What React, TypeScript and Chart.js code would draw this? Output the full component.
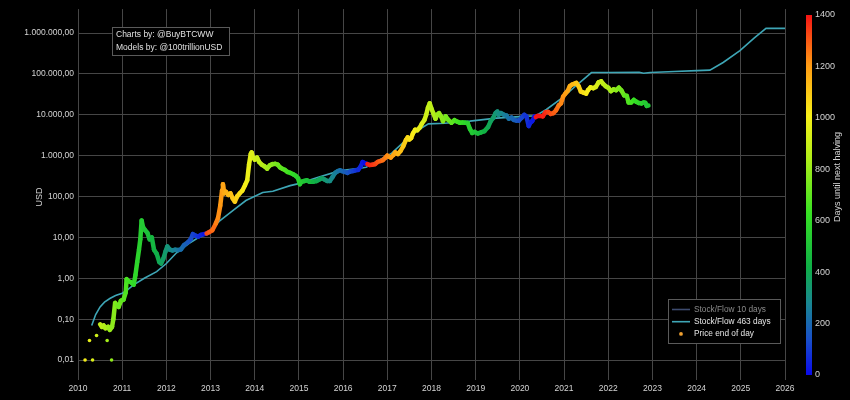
import { useEffect, useRef } from 'react';
import { Chart, registerables } from 'chart.js';

Chart.register(...registerables);

// ---------- data ----------
const halvingYears = [2012.91, 2016.52, 2020.36, 2024.3];

const earlyYears = [2010.16, 2010.26, 2010.33, 2010.42, 2010.66, 2010.76];
const earlyUsd = [0.01, 0.03, 0.01, 0.04, 0.03, 0.01];

const priceYears = [
  2010.5, 2010.54, 2010.58, 2010.62, 2010.68, 2010.72, 2010.77, 2010.8, 2010.84, 2010.88,
  2010.92, 2010.97, 2011.03, 2011.08, 2011.1, 2011.14, 2011.2, 2011.26, 2011.3, 2011.34,
  2011.38, 2011.41, 2011.44, 2011.47, 2011.52, 2011.57, 2011.62, 2011.67, 2011.72, 2011.78,
  2011.84, 2011.88, 2011.93, 2011.98, 2012.02, 2012.08, 2012.14, 2012.2, 2012.27, 2012.33,
  2012.4, 2012.48, 2012.55, 2012.6, 2012.66, 2012.72, 2012.78, 2012.85, 2012.91, 2012.97,
  2013.04, 2013.12, 2013.17, 2013.22, 2013.26, 2013.28, 2013.31, 2013.35, 2013.4, 2013.45,
  2013.5, 2013.55, 2013.6, 2013.66, 2013.72, 2013.78, 2013.83, 2013.87, 2013.91, 2013.93,
  2013.96, 2014.0, 2014.05, 2014.1, 2014.16, 2014.22, 2014.28, 2014.34, 2014.4, 2014.46,
  2014.52, 2014.57, 2014.62, 2014.68, 2014.74, 2014.8, 2014.87, 2014.93, 2014.98, 2015.02,
  2015.06, 2015.12, 2015.18, 2015.24, 2015.32, 2015.4, 2015.46, 2015.52, 2015.58, 2015.64,
  2015.7, 2015.76, 2015.82, 2015.88, 2015.93, 2015.98, 2016.04, 2016.1, 2016.16, 2016.22,
  2016.28, 2016.34, 2016.4, 2016.44, 2016.47, 2016.5, 2016.55, 2016.6, 2016.66, 2016.72,
  2016.78, 2016.84, 2016.9, 2016.96, 2017.0, 2017.03, 2017.08, 2017.14, 2017.18, 2017.24,
  2017.3, 2017.36, 2017.42, 2017.46, 2017.5, 2017.54, 2017.58, 2017.63, 2017.68, 2017.73,
  2017.78, 2017.84, 2017.88, 2017.92, 2017.96, 2018.0, 2018.04, 2018.09, 2018.13, 2018.17,
  2018.22, 2018.26, 2018.32, 2018.38, 2018.45, 2018.52, 2018.58, 2018.64, 2018.7, 2018.76,
  2018.82, 2018.87, 2018.92, 2018.98, 2019.05, 2019.12, 2019.2, 2019.28, 2019.34, 2019.4,
  2019.45, 2019.49, 2019.52, 2019.57, 2019.64, 2019.7, 2019.75, 2019.81, 2019.86, 2019.92,
  2019.98, 2020.04, 2020.1, 2020.15, 2020.2, 2020.24, 2020.28, 2020.33, 2020.36, 2020.4,
  2020.46, 2020.52, 2020.58, 2020.64, 2020.7, 2020.76, 2020.82, 2020.88, 2020.93, 2020.98,
  2021.03, 2021.08, 2021.13, 2021.18, 2021.24, 2021.28, 2021.33, 2021.38, 2021.44, 2021.5,
  2021.54, 2021.6, 2021.66, 2021.72, 2021.78, 2021.84, 2021.88, 2021.94, 2022.0, 2022.06,
  2022.12, 2022.18, 2022.24, 2022.3, 2022.36, 2022.42, 2022.46, 2022.52, 2022.58, 2022.63,
  2022.69, 2022.75, 2022.8, 2022.84, 2022.87, 2022.91,
];
const priceUsd = [
  0.075, 0.065, 0.07, 0.06, 0.065, 0.055, 0.065, 0.1, 0.25, 0.22,
  0.2, 0.28, 0.3, 0.45, 0.95, 0.85, 0.8, 0.7, 1.2, 2.5,
  5, 9, 26, 18, 15, 13, 9, 10, 5, 4,
  2.5, 2.3, 3, 4.5, 6, 5, 4.8, 5, 4.9, 5.1,
  6.5, 7.5, 9, 12, 11, 10.5, 11.5, 12, 12.5, 13.5,
  15, 22, 30, 60, 140, 200, 120, 130, 110, 120,
  90, 75, 100, 120, 140, 190, 250, 600, 1100, 1200,
  900, 800, 900, 700, 600, 550, 480, 580, 620, 630,
  600, 520, 480, 450, 400, 380, 350, 320, 280, 200,
  230, 240, 250, 230, 230, 240, 260, 280, 260, 240,
  240, 300, 380, 420, 440, 420, 400, 380, 410, 420,
  440, 450, 550, 700, 670, 650, 620, 590, 600, 620,
  700, 740, 780, 900, 1000, 950, 900, 1050, 1200, 1100,
  1300, 1700, 2400, 2800, 2500, 2700, 3500, 4300, 4200, 4800,
  6000, 7500, 10000, 15000, 19000, 14000, 11000, 8000, 10000, 11000,
  9000, 7000, 9200, 7500, 6400, 7400, 6800, 6400, 6500, 6400,
  6300, 4500, 3600, 3800, 3500, 3700, 4000, 5000, 7000, 8500,
  11000, 12000, 10000, 11000, 10000, 9500, 8000, 8500, 7500, 7200,
  7200, 8500, 10000, 9000, 5300, 6500, 7000, 9000, 8800, 9500,
  9300, 9200, 11500, 11700, 10500, 11000, 13000, 17000, 19000, 28000,
  33000, 38000, 50000, 55000, 58000, 60000, 50000, 37000, 35000, 33000,
  40000, 47000, 45000, 48000, 62000, 66000, 58000, 50000, 46000, 38000,
  42000, 40000, 46000, 39000, 30000, 29000, 20000, 20000, 23000, 21000,
  19500, 19000, 20000, 19500, 16500, 16800,
];

const sfYears = [
  2010.31, 2010.4, 2010.5, 2010.6, 2010.72, 2010.85, 2011.0, 2011.1, 2011.25, 2011.5,
  2011.78, 2012.0, 2012.23, 2012.5, 2012.7, 2012.91, 2013.2, 2013.51, 2013.8, 2014.18,
  2014.41, 2014.8, 2015.02, 2015.4, 2015.93, 2016.3, 2016.52, 2016.8, 2017.1, 2017.4,
  2017.7, 2017.93, 2018.3, 2018.87, 2019.47, 2020.0, 2020.36, 2020.6, 2020.98, 2021.3,
  2021.62, 2022.0, 2022.7, 2022.8, 2022.95, 2023.5, 2024.0, 2024.3, 2024.6, 2024.98,
  2025.3, 2025.57, 2026.0,
];
const sfUsd = [
  0.07, 0.13, 0.2, 0.26, 0.32, 0.38, 0.43, 0.5, 0.68, 1.0,
  1.45, 2.3, 4.2, 7.0, 9.5, 12, 25, 46, 80, 125,
  135, 185, 210, 290, 430, 480, 520, 760, 1150, 2300,
  4200, 6000, 6200, 7000, 8300, 9000, 9500, 13500, 27000, 55000,
  108000, 108000, 110000, 104000, 108000, 115000, 120000, 124000, 190000, 370000,
  750000, 1300000, 1300000,
];

const yTickValues = [0.01, 0.1, 1, 10, 100, 1000, 10000, 100000, 1000000];
const colorbarTicks = [0, 200, 400, 600, 800, 1000, 1200, 1400];
const colorbarMax = 1400;

// ---------- helpers ----------
const FONT = '"Liberation Sans", Arial, sans-serif';
const TEXT = '#d4d4d4';

const colorStops: [number, number[]][] = [
  [0, [10, 10, 235]],
  [0.1, [25, 80, 200]],
  [0.2, [25, 135, 145]],
  [0.3, [15, 175, 70]],
  [0.45, [55, 225, 35]],
  [0.6, [175, 238, 25]],
  [0.72, [248, 240, 25]],
  [0.86, [255, 155, 20]],
  [1, [245, 20, 20]],
];

function colorAtT(t: number): string {
  t = Math.max(0, Math.min(1, t));
  for (let i = 1; i < colorStops.length; i++) {
    const [t1, c1] = colorStops[i];
    const [t0, c0] = colorStops[i - 1];
    if (t <= t1) {
      const f = (t - t0) / (t1 - t0);
      const c = c0.map((v, k) => Math.round(v + (c1[k] - v) * f));
      return `rgb(${c[0]},${c[1]},${c[2]})`;
    }
  }
  const c = colorStops[colorStops.length - 1][1];
  return `rgb(${c[0]},${c[1]},${c[2]})`;
}

function daysUntilHalving(year: number): number {
  const next = halvingYears.find((h) => h > year);
  if (next === undefined) return 0;
  return (next - year) * 365.25;
}

function colorForYear(year: number): string {
  return colorAtT(daysUntilHalving(year) / colorbarMax);
}

function fmtUsd(v: number): string {
  const s = v.toFixed(2);
  const [i, d] = s.split('.');
  return i.replace(/\B(?=(\d{3})+(?!\d))/g, '.') + ',' + d;
}

const overlayPlugin = {
  id: 'overlays',
  afterDraw(chart: any) {
    const ctx = chart.ctx as CanvasRenderingContext2D;
    ctx.save();

    // Annotation box
    ctx.fillStyle = '#000';
    ctx.fillRect(112.5, 27.5, 117, 28);
    ctx.strokeStyle = '#5a5a5a';
    ctx.lineWidth = 1;
    ctx.strokeRect(112.5, 27.5, 117, 28);
    ctx.fillStyle = '#e0e0e0';
    ctx.font = `8.5px ${FONT}`;
    ctx.textAlign = 'left';
    ctx.textBaseline = 'middle';
    ctx.fillText('Charts by: @BuyBTCWW', 116, 35);
    ctx.fillText('Models by: @100trillionUSD', 116, 48);

    // Legend box
    const lx = 668.5, ly = 299.5, lw = 112, lh = 44;
    ctx.fillStyle = '#000';
    ctx.fillRect(lx, ly, lw, lh);
    ctx.strokeStyle = '#5a5a5a';
    ctx.strokeRect(lx, ly, lw, lh);
    const items = chart.data.datasets.filter((d: any) => !d.legendSkip);
    items.forEach((d: any, i: number) => {
      const y = 309.5 + i * 12.2;
      if (d.legendDot) {
        ctx.fillStyle = d.borderColor;
        ctx.beginPath();
        ctx.arc(681, y, 1.9, 0, Math.PI * 2);
        ctx.fill();
      } else {
        ctx.strokeStyle = d.borderColor;
        ctx.lineWidth = 1.6;
        ctx.beginPath();
        ctx.moveTo(672, y);
        ctx.lineTo(690, y);
        ctx.stroke();
      }
      ctx.fillStyle = d.hidden ? '#8a8a8a' : '#e6e6e6';
      ctx.font = `8.3px ${FONT}`;
      ctx.textAlign = 'left';
      ctx.textBaseline = 'middle';
      ctx.fillText(d.label, 694, y);
    });

    // Colorbar
    const cbTop = 15, cbBottom = 375, cbX = 806, cbW = 6;
    const grad = ctx.createLinearGradient(0, cbBottom, 0, cbTop);
    colorStops.forEach(([t]) => grad.addColorStop(t, colorAtT(t)));
    ctx.fillStyle = grad;
    ctx.fillRect(cbX, cbTop, cbW, cbBottom - cbTop);
    ctx.fillStyle = TEXT;
    ctx.font = `9px ${FONT}`;
    ctx.textAlign = 'left';
    ctx.textBaseline = 'middle';
    colorbarTicks.forEach((v) => {
      const y = cbBottom - (v / colorbarMax) * (cbBottom - cbTop);
      ctx.fillText(String(v), 815, y);
    });
    ctx.save();
    ctx.translate(838, 177);
    ctx.rotate(-Math.PI / 2);
    ctx.textAlign = 'center';
    ctx.font = `9px ${FONT}`;
    ctx.fillText('Days until next halving', 0, 0);
    ctx.restore();

    // Y axis title
    ctx.save();
    ctx.translate(40, 197);
    ctx.rotate(-Math.PI / 2);
    ctx.textAlign = 'center';
    ctx.textBaseline = 'middle';
    ctx.fillStyle = TEXT;
    ctx.font = `9px ${FONT}`;
    ctx.fillText('USD', 0, 0);
    ctx.restore();

    ctx.restore();
  },
};

export default function App() {
  const ref = useRef<HTMLCanvasElement>(null);

  useEffect(() => {
    document.body.style.margin = '0';
    document.body.style.background = '#000';
    Chart.defaults.font.family = FONT;

    const chart = new Chart(ref.current as HTMLCanvasElement, {
      type: 'line',
      data: {
        datasets: [
          {
            label: 'Stock/Flow 10 days',
            data: [],
            borderColor: '#3d4b6e',
            hidden: true,
            pointRadius: 0,
          } as any,
          {
            label: 'Stock/Flow 463 days',
            data: sfYears.map((x, i) => ({ x, y: sfUsd[i] })),
            borderColor: '#3ea6b6',
            borderWidth: 1.6,
            pointRadius: 0,
            tension: 0,
            order: 3,
          },
          {
            label: 'Price end of day',
            legendDot: true,
            data: priceYears.map((x, i) => ({ x, y: priceUsd[i] })),
            borderColor: '#f0a030',
            borderWidth: 4.5,
            borderCapStyle: 'round',
            borderJoinStyle: 'round',
            pointRadius: 0,
            tension: 0,
            order: 2,
            segment: {
              borderColor: (c: any) => colorForYear(c.p0.parsed.x),
            },
          } as any,
          {
            label: 'early',
            legendSkip: true,
            data: earlyYears.map((x, i) => ({ x, y: earlyUsd[i] })),
            showLine: false,
            pointRadius: 1.8,
            pointBorderWidth: 0,
            pointBackgroundColor: (c: any) => colorForYear(c.raw ? c.raw.x : 2010),
            order: 1,
          } as any,
        ],
      },
      options: {
        animation: false,
        responsive: false,
        maintainAspectRatio: false,
        layout: { padding: { left: 0, top: 8, right: 65, bottom: 0 } },
        plugins: {
          legend: { display: false },
          tooltip: { enabled: false },
        },
        scales: {
          x: {
            type: 'linear',
            min: 2010,
            max: 2026,
            afterFit: (s: any) => {
              s.height = 20;
            },
            ticks: {
              stepSize: 1,
              autoSkip: false,
              maxRotation: 0,
              padding: 4,
              color: TEXT,
              font: { size: 8.5, family: FONT },
              callback: (v: any) => String(v),
            },
            grid: { color: '#464646', lineWidth: 1, drawTicks: false },
            border: { display: false },
          },
          y: {
            type: 'logarithmic',
            min: 0.00325,
            max: 3850000,
            afterFit: (s: any) => {
              s.width = 78;
            },
            afterBuildTicks: (s: any) => {
              s.ticks = yTickValues.map((value) => ({ value }));
            },
            ticks: {
              padding: 4,
              color: TEXT,
              font: { size: 8.5, family: FONT },
              callback: (v: any) => fmtUsd(Number(v)),
            },
            grid: { color: '#464646', lineWidth: 1, drawTicks: false },
            border: { display: false },
          },
        },
      } as any,
      plugins: [overlayPlugin],
    });

    return () => chart.destroy();
  }, []);

  return (
    <div style={{ width: 850, height: 400, background: '#000' }}>
      <canvas ref={ref} width={850} height={400} style={{ display: 'block' }} />
    </div>
  );
}
